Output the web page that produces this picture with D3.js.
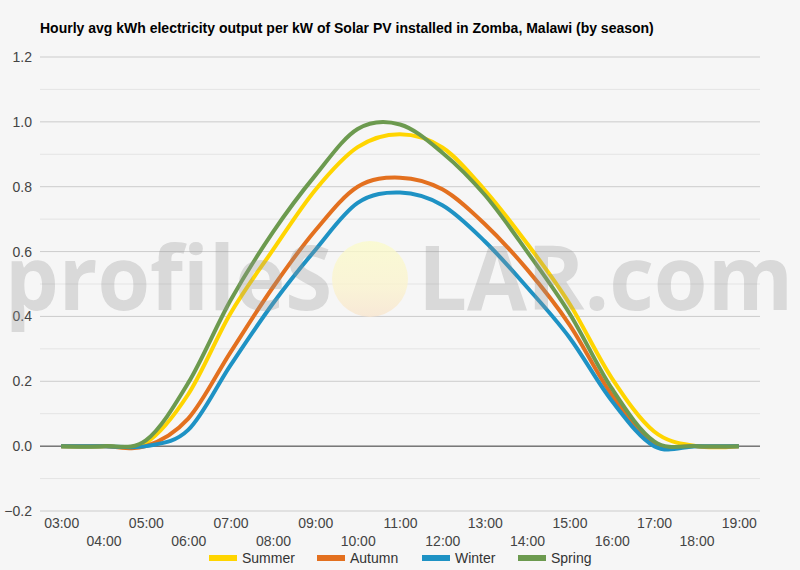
<!DOCTYPE html>
<html lang="en">
<head>
<meta charset="UTF-8">
<title>Zomba solar output by season</title>
<script src="https://cdn.jsdelivr.net/npm/d3@7"></script>
<style>
  body { margin: 0; background: #f6f6f6; }
  svg { display: block; font-family: "Liberation Sans", Arial, sans-serif; }
</style>
</head>
<body>
<div id="chart"></div>
<script>
// hourly averages, 03:00 .. 19:00
var hours  = ["03:00","04:00","05:00","06:00","07:00","08:00","09:00","10:00","11:00",
              "12:00","13:00","14:00","15:00","16:00","17:00","18:00","19:00"];
var summer = [0, 0, 0.010, 0.160, 0.410, 0.605, 0.790, 0.922, 0.962, 0.921, 0.790, 0.625, 0.440, 0.210, 0.045, 0, 0];
var autumn = [0, 0, 0.000, 0.085, 0.290, 0.490, 0.665, 0.800, 0.828, 0.792, 0.685, 0.545, 0.375, 0.158, 0.010, 0, 0];
var winter = [0, 0, 0.000, 0.050, 0.250, 0.440, 0.605, 0.750, 0.782, 0.743, 0.632, 0.490, 0.335, 0.140, 0.000, 0, 0];
var spring = [0, 0, 0.018, 0.195, 0.450, 0.660, 0.835, 0.978, 0.992, 0.905, 0.775, 0.600, 0.410, 0.178, 0.015, 0, 0];

var seasons = ["Summer", "Autumn", "Winter", "Spring"];
var seriesData = [summer, autumn, winter, spring];
var colors = ["#ffd500", "#e3701f", "#1e92c4", "#6c9a4f"];

var yTicks = [-0.2, 0, 0.2, 0.4, 0.6, 0.8, 1.0, 1.2];
var yMinor = [-0.1, 0.1, 0.3, 0.5, 0.7, 0.9, 1.1];

var W = 800, H = 570;
var svg = d3.select("#chart").append("svg")
  .attr("width", W).attr("height", H);

svg.append("rect").attr("width", W).attr("height", H).attr("fill", "#f6f6f6");

var x = d3.scalePoint().domain(hours).range([40, 760]).padding(0.5);
var y = d3.scaleLinear().domain([-0.2, 1.2]).range([511, 57]);

// title
svg.append("text")
  .attr("x", 40).attr("y", 33)
  .attr("font-size", 14).attr("font-weight", "bold").attr("fill", "#000")
  .text("Hourly avg kWh electricity output per kW of Solar PV installed in Zomba, Malawi (by season)");

// grid
var grid = svg.append("g");
grid.selectAll("line.minor").data(yMinor).enter().append("line")
  .attr("class", "minor")
  .attr("x1", 40).attr("x2", 760)
  .attr("y1", function(d){ return y(d); }).attr("y2", function(d){ return y(d); })
  .attr("stroke", "#e4e4e4").attr("stroke-width", 1);
grid.selectAll("line.major").data(yTicks).enter().append("line")
  .attr("class", "major")
  .attr("x1", 40).attr("x2", 760)
  .attr("y1", function(d){ return y(d); }).attr("y2", function(d){ return y(d); })
  .attr("stroke", function(d){ return d === 0 ? "#333" : "#cccccc"; })
  .attr("stroke-width", 1);

// y labels
var yAxis = d3.axisLeft(y).tickValues(yTicks).tickSize(0).tickPadding(8)
  .tickFormat(d3.format(".1f"));
svg.append("g").attr("transform", "translate(40,0)").call(yAxis)
  .call(function(g){
    g.select(".domain").remove();
    g.selectAll("text").attr("font-size", 14).attr("fill", "#444")
      .attr("font-family", "Liberation Sans, Arial, sans-serif");
  });

// x labels, alternating in two rows
var xAxis = d3.axisBottom(x).tickSize(0).tickPadding(0);
svg.append("g").attr("transform", "translate(0,511)").call(xAxis)
  .call(function(g){
    g.select(".domain").remove();
    g.selectAll("text")
      .attr("font-size", 14).attr("fill", "#444")
      .attr("font-family", "Liberation Sans, Arial, sans-serif")
      .attr("dy", null)
      .attr("y", function(d, i){ return i % 2 === 0 ? 17 : 35; });
  });

// lines
var line = d3.line()
  .x(function(d, i){ return x(hours[i]); })
  .y(function(d){ return y(d); })
  .curve(d3.curveCardinal.tension(0));

svg.append("g").selectAll("path").data(seriesData).enter().append("path")
  .attr("d", line)
  .attr("fill", "none")
  .attr("stroke", function(d, i){ return colors[i]; })
  .attr("stroke-width", 4)
  .attr("stroke-linejoin", "round");

// watermark
var defs = svg.append("defs");
var grad = defs.append("linearGradient").attr("id", "sun")
  .attr("x1", 0).attr("y1", 0).attr("x2", 0).attr("y2", 1);
grad.append("stop").attr("offset", "0%").attr("stop-color", "#fbfbc8");
grad.append("stop").attr("offset", "60%").attr("stop-color", "#fbf3cc");
grad.append("stop").attr("offset", "100%").attr("stop-color", "#f8e4cc");

var wm = svg.append("g").attr("pointer-events", "none");
wm.append("circle").attr("cx", 370).attr("cy", 279).attr("r", 38)
  .attr("fill", "url(#sun)").attr("opacity", 0.75);
wm.append("text").attr("x", 5).attr("y", 310)
  .attr("font-family", "Open Sans, sans-serif").attr("font-size", 90).attr("font-weight", "bold")
  .attr("textLength", 327).attr("lengthAdjust", "spacingAndGlyphs")
  .attr("fill", "#969696").attr("fill-opacity", 0.3)
  .text("profileS");
wm.append("text").attr("x", 418).attr("y", 310)
  .attr("font-family", "Open Sans, sans-serif").attr("font-size", 90).attr("font-weight", "bold")
  .attr("textLength", 375).attr("lengthAdjust", "spacingAndGlyphs")
  .attr("fill", "#969696").attr("fill-opacity", 0.3)
  .text("LAR.com");

// legend
var legendX = [209, 317, 422, 518];
var legend = svg.append("g").selectAll("g").data(seasons).enter().append("g")
  .attr("transform", function(d, i){ return "translate(" + legendX[i] + ",558)"; });
legend.append("rect").attr("x", 0).attr("y", -3).attr("width", 28).attr("height", 6)
  .attr("fill", function(d, i){ return colors[i]; });
legend.append("text").attr("x", 33).attr("y", 5)
  .attr("font-size", 14).attr("fill", "#333")
  .text(function(d){ return d; });
</script>
</body>
</html>
